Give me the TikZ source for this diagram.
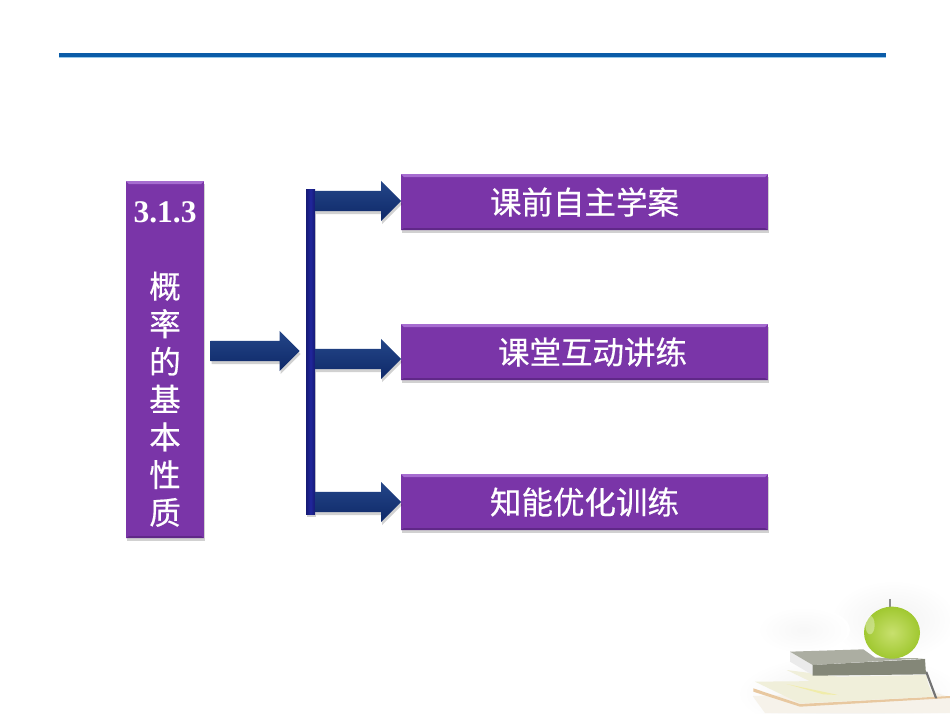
\documentclass[tikz,border=0pt]{standalone}
\usepackage{fontspec}
\setmainfont{Liberation Serif}
\newfontfamily\cjk[FakeBold=0.5]{Noto Sans CJK SC}
\usepackage{tikz}
\usetikzlibrary{positioning}
\usetikzlibrary{shapes.arrows}
\usetikzlibrary{shadows}
\definecolor{rulecol}{RGB}{11,92,168}
\definecolor{rulelight}{RGB}{150,200,235}
\definecolor{boxpurple}{RGB}{122,53,168}
\definecolor{boxlight}{RGB}{166,108,208}
\definecolor{boxdark}{RGB}{96,40,136}
\definecolor{navytop}{RGB}{36,70,136}
\definecolor{navybot}{RGB}{14,40,104}
\definecolor{barcol}{RGB}{32,38,156}
\definecolor{bardark}{RGB}{22,26,116}
\definecolor{appleout}{RGB}{160,200,48}
\definecolor{applein}{RGB}{200,224,110}
\definecolor{booktop}{RGB}{172,174,162}
\definecolor{bookfront}{RGB}{132,135,120}
\definecolor{bookcream}{RGB}{240,239,218}
\definecolor{bookyellow}{RGB}{240,236,170}
\definecolor{bookpage}{RGB}{246,242,234}
\definecolor{bookedge}{RGB}{232,200,160}
\begin{document}
\begin{tikzpicture}[x=1pt,y=-1pt,>=latex,
  softshadow/.style={drop shadow={shadow xshift=1pt,shadow yshift=-3pt,opacity=.18,fill=black}},
  purplebox/.style={rectangle,inner sep=0pt,fill=boxpurple,text=white,softshadow,
    font=\cjk\fontsize{31.5}{37.7}\selectfont,
    path picture={
      \fill[boxlight] (path picture bounding box.north west) -- (path picture bounding box.north east)
        -- ([xshift=-3pt,yshift=-3pt]path picture bounding box.north east) -- ([xshift=3pt,yshift=-3pt]path picture bounding box.north west) -- cycle;
      \fill[boxdark] (path picture bounding box.south west) -- (path picture bounding box.south east)
        -- ([xshift=-3pt,yshift=2pt]path picture bounding box.south east) -- ([xshift=3pt,yshift=2pt]path picture bounding box.south west) -- cycle;
    }},
  rowbox/.style={purplebox,minimum width=367pt,minimum height=56pt},
  blockarrow/.style={single arrow,inner xsep=0pt,inner ysep=10pt,minimum width=40pt,single arrow head extend=10pt,
    single arrow tip angle=90,single arrow head indent=0pt,top color=navytop,bottom color=navybot,softshadow},
  ]

\useasboundingbox (0,0) rectangle (950,713);
\fill[white] (0,0) rectangle (950,713);

% picture in the corner
\begin{scope}[shift={(720,560)},scale=1/3]
\shade[inner color=black!5,outer color=white] (520,180) ellipse (190 and 120);
\shade[inner color=black!3,outer color=white] (250,210) ellipse (140 and 70);
\shade[inner color=black!7,outer color=white] (390,400) ellipse (340 and 120);
% lower books
\fill[bookpage] (98,408) -- (135,459) -- (690,459) -- (690,412) -- (640,395) -- cycle;
\fill[bookedge] (100,385) -- (240,432) -- (690,408) -- (690,414) -- (240,440) -- (100,395) -- cycle;
\fill[bookcream] (105,365) -- (240,430) -- (640,410) -- (620,360) -- cycle;
\fill[bookyellow] (200,372) -- (310,403) -- (355,405) -- cycle;
\fill[bookcream] (200,330) -- (355,405) -- (625,385) -- (620,345) -- (355,350) -- cycle;
\fill[black!55] (615,335) -- (622,335) -- (652,415) -- (645,415) -- cycle;
% grey book
\fill[black!8] (210,275) -- (278,315) -- (278,345) -- (210,305) -- cycle;
\fill[booktop] (210,275) -- (430,268) -- (465,293) -- (615,295) -- (278,315) -- cycle;
\fill[bookfront] (278,315) -- (615,297) -- (618,343) -- (278,347) -- cycle;
% apple
\fill[black!45] (506,118) rectangle (513,142);
\shade[inner color=applein,outer color=appleout] (516,218) ellipse (84 and 78);
\fill[white,opacity=.35] (450,195) ellipse (14 and 28);
\end{scope}

% top rule
\coordinate (ruleL) at (59,55);
\coordinate (ruleR) at (886,55);
\draw[rulelight,line width=5pt] (ruleL) -- (ruleR);
\draw[rulecol,line width=3.4pt] (ruleL) -- (ruleR);

\node[purplebox,minimum width=78pt,minimum height=357pt,align=center] (titleBox) at (165,359.5)
  {\rule{0pt}{30.5pt}{\normalfont\bfseries 3.1.3}\\[37.7pt]概\\率\\的\\基\\本\\性\\质};

\node[rowbox] (boxA) at (584.5,202) {\raisebox{1.5pt}{课前自主学案}};
\node[rowbox] (boxB) at (584.5,352) {\hspace*{16pt}\raisebox{1.5pt}{课堂互动讲练}};
\node[rowbox] (boxC) at (584.5,502) {\raisebox{1.5pt}{知能优化训练}};

\node[rectangle,inner sep=0pt,minimum width=9pt,minimum height=325pt,left color=bardark,right color=bardark,middle color=barcol,softshadow] (barV) at (310.5,351.5) {};

\coordinate (tipMain) at (300,351);
\node[blockarrow,minimum height=89pt,anchor=tip] (arrowMain) at (tipMain) {};
\coordinate (tipA) at (401.5,201);
\coordinate (tipB) at (401.5,359);
\coordinate (tipC) at (401.5,502);
\node[blockarrow,minimum height=86pt,anchor=tip] (arrowA) at (tipA) {};
\node[blockarrow,minimum height=86pt,anchor=tip] (arrowB) at (tipB) {};
\node[blockarrow,minimum height=86pt,anchor=tip] (arrowC) at (tipC) {};
\end{tikzpicture}
\end{document}
